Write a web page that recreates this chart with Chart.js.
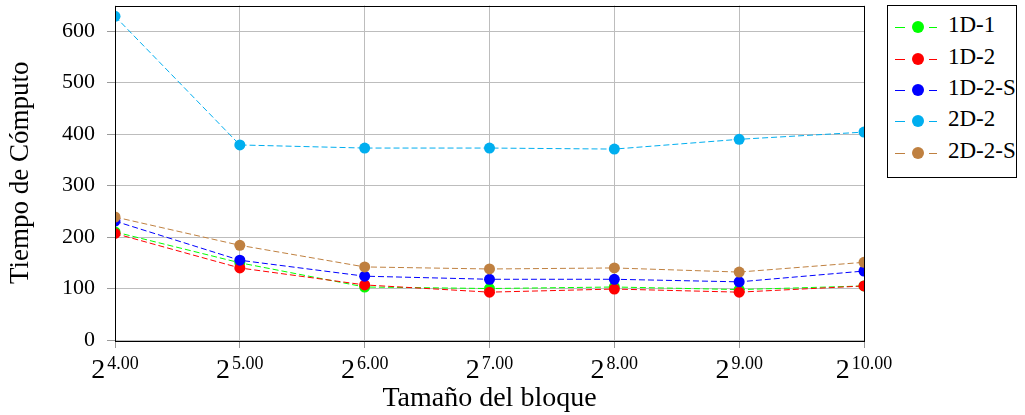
<!DOCTYPE html>
<html>
<head>
<meta charset="utf-8">
<script src="https://cdn.jsdelivr.net/npm/chart.js@4.4.0/dist/chart.umd.min.js"></script>
<style>
  body { margin: 0; background: #fff; }
  #wrap { position: relative; width: 1025px; height: 415px; }
  #legend {
    position: absolute; left: 887px; top: 5px; width: 130px; height: 173px;
    border: 1px solid #000; box-sizing: border-box; background: #fff;
    font-family: "Liberation Serif", serif; font-size: 23px;
  }
  .item { position: absolute; left: 0; height: 20px; }
  .item .ln { position: absolute; top: 10px; height: 1px; }
  .item .dot { position: absolute; left: 24px; top: 4px; width: 12px; height: 12px; border-radius: 50%; }
  .item .tx { position: absolute; left: 60px; top: -5px; white-space: nowrap; }
</style>
</head>
<body>
<div id="wrap">
  <canvas id="myChart" width="1025" height="415"></canvas>
  <div id="legend"></div>
</div>
<script>
let exps = [4, 5, 6, 7, 8, 9, 10];
let names = ['1D-1', '1D-2', '1D-2-S', '2D-2', '2D-2-S'];
let colorHex = ['#00ff00', '#ff0000', '#0000ff', '#00aeef', '#bf8040'];
let d1D1  = [210, 150, 103, 100, 103, 98, 105];
let d1D2  = [207, 140, 107, 93, 99, 93, 105];
let d1D2S = [231, 155, 124, 118, 118, 113, 134];
let d2D2  = [629, 379, 373, 373, 371, 390, 404];
let d2D2S = [239, 184, 142, 138, 140, 132, 151];
let series = [d1D1, d1D2, d1D2S, d2D2, d2D2S];
let yTicks = [0, 100, 200, 300, 400, 500, 600];

let serif = '"Liberation Serif", "DejaVu Serif", serif';

// legend
let leg = document.getElementById('legend');
let rows = [11, 43, 74, 105, 137];
names.forEach((n, i) => {
  let el = document.createElement('div');
  el.className = 'item';
  el.style.top = rows[i] + 'px';
  el.innerHTML =
    '<div class="ln" style="left:7px;width:10px;background:' + colorHex[i] + '"></div>' +
    '<div class="dot" style="background:' + colorHex[i] + '"></div>' +
    '<div class="ln" style="left:41px;width:8px;background:' + colorHex[i] + '"></div>' +
    '<div class="tx">' + n + '</div>';
  leg.appendChild(el);
});

// x tick labels as 2^{n.00}
let powLabels = {
  id: 'powLabels',
  afterDraw(chart) {
    let c = chart.ctx;
    let sx = chart.scales.x;
    c.save();
    c.fillStyle = '#000';
    c.textBaseline = 'alphabetic';
    exps.forEach(e => {
      let base = '2', sup = e.toFixed(2);
      c.font = '28px ' + serif;
      let wb = c.measureText(base).width;
      c.font = '18px ' + serif;
      let ws = c.measureText(sup).width;
      let x0 = sx.getPixelForValue(e) - (wb + ws + 2) / 2;
      c.font = '28px ' + serif;
      c.fillText(base, x0, 378);
      c.font = '18px ' + serif;
      c.fillText(sup, x0 + wb + 2, 369);
    });
    c.restore();
  }
};

let ctx = document.getElementById('myChart').getContext('2d');
let myChart = new Chart(ctx, {
  type: 'line',
  data: {
    datasets: series.map((s, i) => ({
      label: names[i],
      data: s.map((v, j) => ({ x: exps[j], y: v })),
      borderColor: colorHex[i],
      backgroundColor: colorHex[i],
      borderWidth: 1,
      borderDash: [6, 3],
      pointRadius: 5.5,
      pointBorderWidth: 0,
      pointBackgroundColor: colorHex[i],
      order: 5 - i,
      tension: 0
    }))
  },
  options: {
    responsive: false,
    animation: false,
    layout: { padding: { left: 0, right: 161, top: 5, bottom: 0 } },
    plugins: { legend: { display: false }, tooltip: { enabled: false } },
    scales: {
      x: {
        type: 'linear', min: 4, max: 10,
        afterFit: (s) => { s.height = 75; s.paddingLeft = 0; s.paddingRight = 0; },
        afterBuildTicks: (s) => { s.ticks = exps.map(v => ({ value: v })); },
        ticks: { callback: () => '', font: { size: 20, family: serif } },
        grid: { color: '#bdbdbd', lineWidth: 1, tickLength: 8, tickColor: '#9a9a9a' },
        border: { display: false },
        title: {
          display: true, text: 'Tamaño del bloque', color: '#000',
          font: { size: 28, family: serif }, padding: { top: 0, bottom: 0 }
        }
      },
      y: {
        min: 0, max: 650,
        afterFit: (s) => { s.width = 115; s.paddingTop = 0; s.paddingBottom = 0; },
        afterBuildTicks: (s) => { s.ticks = yTicks.map(v => ({ value: v })); },
        ticks: { color: '#000', font: { size: 22, family: serif }, padding: 12 },
        grid: { color: '#bdbdbd', lineWidth: 1, tickLength: 8, tickColor: '#9a9a9a' },
        border: { display: false },
        title: {
          display: true, text: 'Tiempo de Cómputo', color: '#000',
          font: { size: 27, family: serif }, padding: { top: 5, bottom: 0 }
        }
      }
    }
  },
  plugins: [powLabels, {
    id: 'frame',
    afterDatasetsDraw(chart) {
      let a = chart.chartArea, c = chart.ctx;
      c.save();
      c.strokeStyle = '#000';
      c.lineWidth = 1;
      c.strokeRect(Math.round(a.left) + 0.5, Math.round(a.top) + 0.5,
        Math.round(a.right - a.left), Math.round(a.bottom - a.top));
      c.restore();
    }
  }]
});
</script>
</body>
</html>
